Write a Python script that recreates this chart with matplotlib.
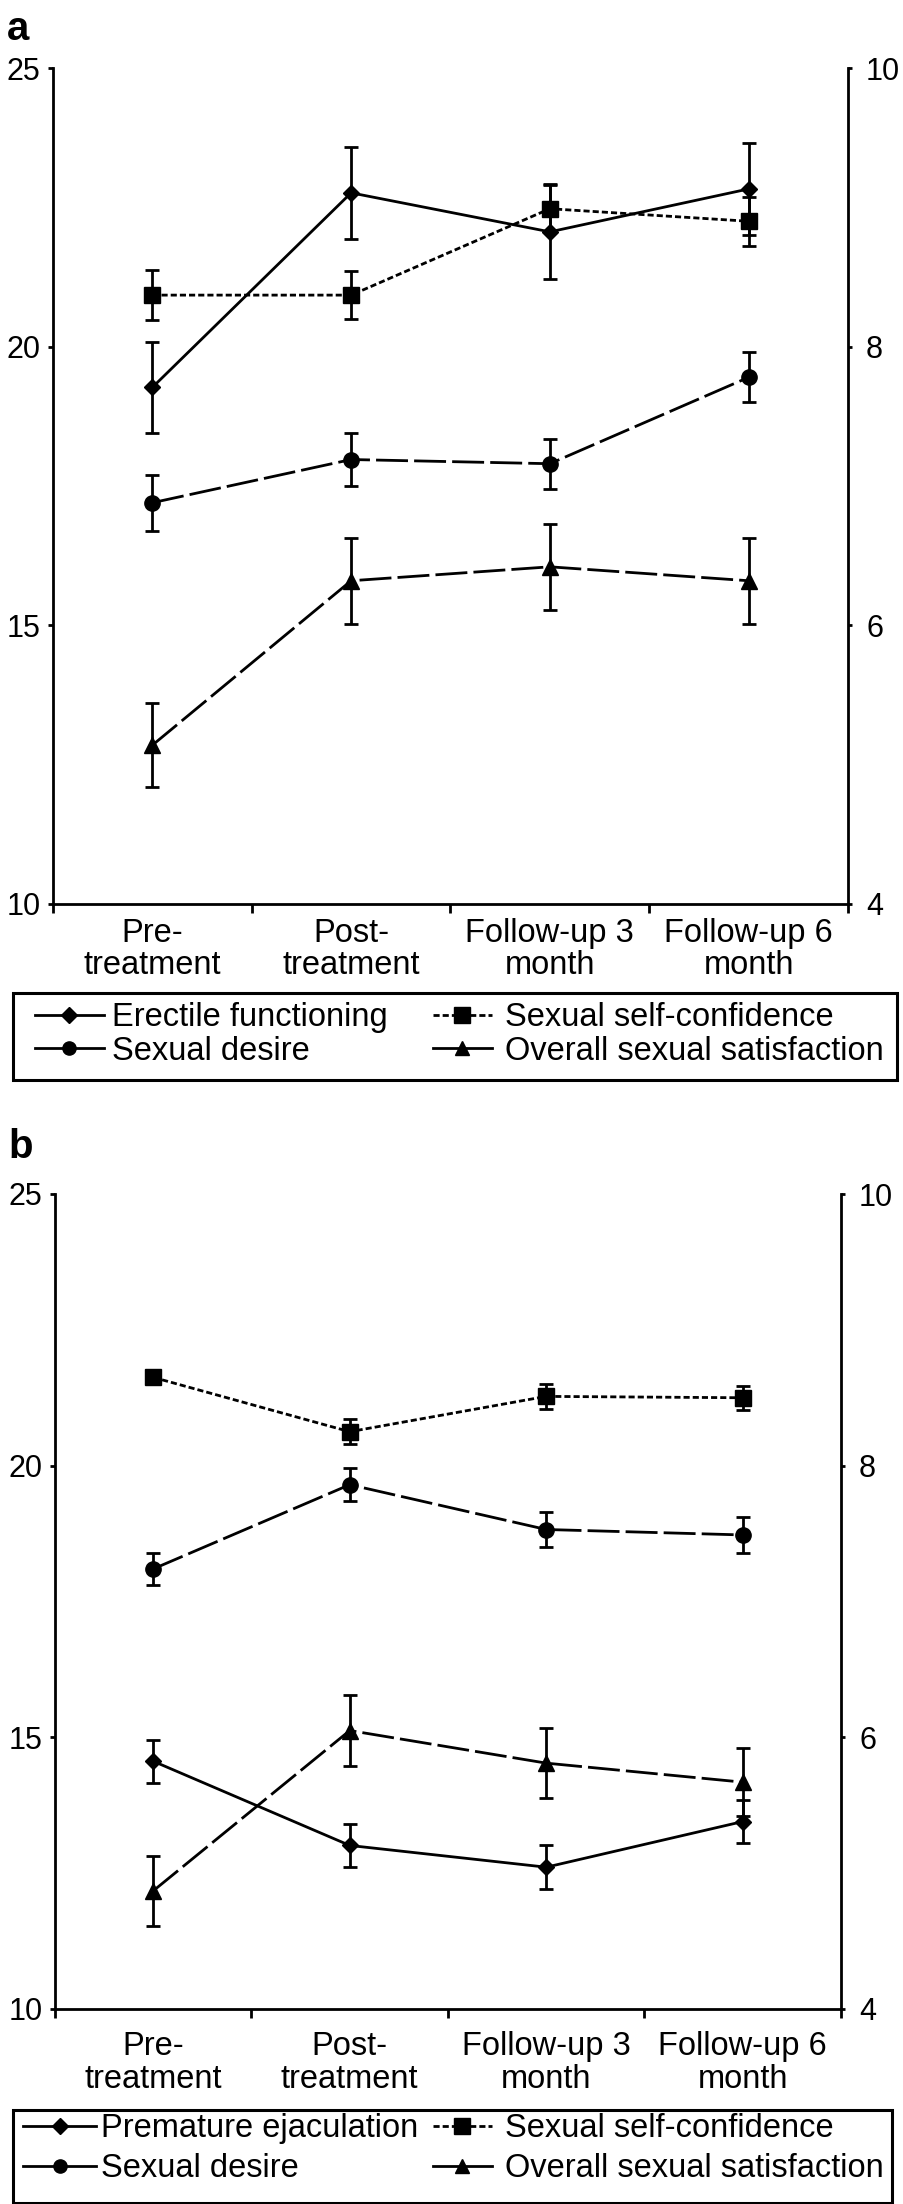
import matplotlib
matplotlib.use("Agg")
import matplotlib.pyplot as plt
from matplotlib.lines import Line2D
from matplotlib.patches import Rectangle
import numpy as np

plt.rcParams['font.family'] = ['Liberation Sans', 'DejaVu Sans']

# time points
categories = ['Pre-\ntreatment', 'Post-\ntreatment', 'Follow-up 3\nmonth', 'Follow-up 6\nmonth']

# panel a (erectile functioning on left axis, others on right axis)
erectile = [19.27, 22.76, 22.06, 22.83]
erectile_err = [0.82, 0.83, 0.85, 0.83]
confidence_a = [8.37, 8.37, 8.99, 8.90]
confidence_a_err = [0.18, 0.17, 0.17, 0.175]
desire_a = [6.88, 7.19, 7.16, 7.78]
desire_a_err = [0.20, 0.19, 0.18, 0.18]
satisfaction_a = [5.14, 6.32, 6.42, 6.32]
satisfaction_a_err = [0.30, 0.31, 0.31, 0.31]

# panel b (premature ejaculation on left axis, others on right axis)
premature = [14.56, 13.01, 12.61, 13.45]
premature_err = [0.40, 0.40, 0.40, 0.40]
confidence_b = [8.65, 8.25, 8.51, 8.50]
confidence_b_err = [0.05, 0.09, 0.09, 0.09]
desire_b = [7.24, 7.86, 7.53, 7.49]
desire_b_err = [0.12, 0.12, 0.13, 0.13]
satisfaction_b = [4.87, 6.05, 5.81, 5.67]
satisfaction_b_err = [0.26, 0.26, 0.26, 0.25]

W, H = 904, 2204
LW = 2.0
LONG = (0, (11.5, 2.2))
DOT = (0, (2.2, 1.1))
FS_TICK = 22
FS_TXT = 23.5

fig = plt.figure(figsize=(W / 100, H / 100), dpi=100)


def panel(rect, left_series, right_series, label_pad):
    ax = fig.add_axes(rect)
    ax2 = ax.twinx()
    x = np.arange(len(categories))
    for (vals, err, mk, ms, ls) in left_series:
        ax.errorbar(x, vals, yerr=err, color='black', lw=LW, ls=ls, marker=mk, ms=ms,
                    capsize=4.8, capthick=LW, elinewidth=LW)
    for (vals, err, mk, ms, ls) in right_series:
        ax2.errorbar(x, vals, yerr=err, color='black', lw=LW, ls=ls, marker=mk, ms=ms,
                     capsize=4.8, capthick=LW, elinewidth=LW)
    ax.set_xlim(-0.5, 3.5)
    ax.set_ylim(10, 25)
    ax.set_yticks([10, 15, 20, 25])
    ax2.set_ylim(4, 10)
    ax2.set_yticks([4, 6, 8, 10])
    ax.set_xticks(np.arange(-0.5, 4.0, 1.0))
    ax.set_xticklabels([])
    ax.set_xticks(x, minor=True)
    ax.set_xticklabels(categories, minor=True, fontsize=FS_TXT, linespacing=1.06)
    ax.tick_params(axis='x', which='major', direction='out', length=6.5, width=LW)
    ax.tick_params(axis='x', which='minor', length=0, pad=label_pad)
    ax.tick_params(axis='y', direction='out', length=3.6, width=LW, labelsize=FS_TICK, pad=5.5)
    ax2.tick_params(axis='y', direction='out', length=3.0, width=LW, labelsize=FS_TICK, pad=10)
    for a in (ax, ax2):
        a.spines['top'].set_visible(False)
        for s in a.spines.values():
            s.set_linewidth(LW)
    ax.spines['right'].set_visible(False)
    ax2.spines['left'].set_visible(False)
    ax2.spines['bottom'].set_visible(False)
    return ax, ax2


panel([53 / W, 1 - 904 / H, (848 - 53) / W, (904 - 68) / H],
      [(erectile, erectile_err, 'D', 8, '-')],
      [(confidence_a, confidence_a_err, 's', 12, DOT),
       (desire_a, desire_a_err, 'o', 11, LONG),
       (satisfaction_a, satisfaction_a_err, '^', 11, LONG)], 10)

panel([55 / W, 1 - 2009 / H, (841 - 55) / W, (2009 - 1194) / H],
      [(premature, premature_err, 'D', 8, '-')],
      [(confidence_b, confidence_b_err, 's', 12, DOT),
       (desire_b, desire_b_err, 'o', 11, LONG),
       (satisfaction_b, satisfaction_b_err, '^', 11, LONG)], 16)

fig.text(7 / W, 1 - 10 / H, 'a', fontsize=29, fontweight='bold', va='top', ha='left')
fig.text(8 / W, 1 - 1128 / H, 'b', fontsize=29, fontweight='bold', va='top', ha='left')


def h(mk, ms, ls):
    return Line2D([], [], color='black', lw=LW, ls=ls, marker=mk, ms=ms)


def legend_box(first_label, top, box, c1, c2, spacing):
    x0, y0, x1, y1 = box
    fig.add_artist(Rectangle((x0 / W, 1 - y1 / H), (x1 - x0) / W, (y1 - y0) / H,
                             transform=fig.transFigure, fill=False, lw=2.2, ec='black'))
    fig.legend([h('D', 8, '-'), h('o', 9.5, '-')], [first_label, 'Sexual desire'],
               loc='upper left', bbox_to_anchor=(c1[0] / W, 1 - top / H), frameon=False,
               fontsize=FS_TXT, borderpad=0, borderaxespad=0, numpoints=1,
               handlelength=c1[1], handletextpad=c1[2], labelspacing=spacing)
    fig.legend([h('s', 11, DOT), h('^', 10, '-')],
               ['Sexual self-confidence', 'Overall sexual satisfaction'],
               loc='upper left', bbox_to_anchor=(c2[0] / W, 1 - top / H), frameon=False,
               fontsize=FS_TXT, borderpad=0, borderaxespad=0, numpoints=1,
               handlelength=c2[1], handletextpad=c2[2], labelspacing=spacing)


legend_box('Erectile functioning', 1002, (13, 993, 897, 1080),
           (35, 2.1, 0.27), (433, 1.8, 0.42), 0.08)
legend_box('Premature ejaculation', 2113, (13, 2110, 892, 2203),
           (23, 2.25, 0.15), (433, 1.8, 0.42), 0.28)

fig.savefig('out.png', dpi=100)
